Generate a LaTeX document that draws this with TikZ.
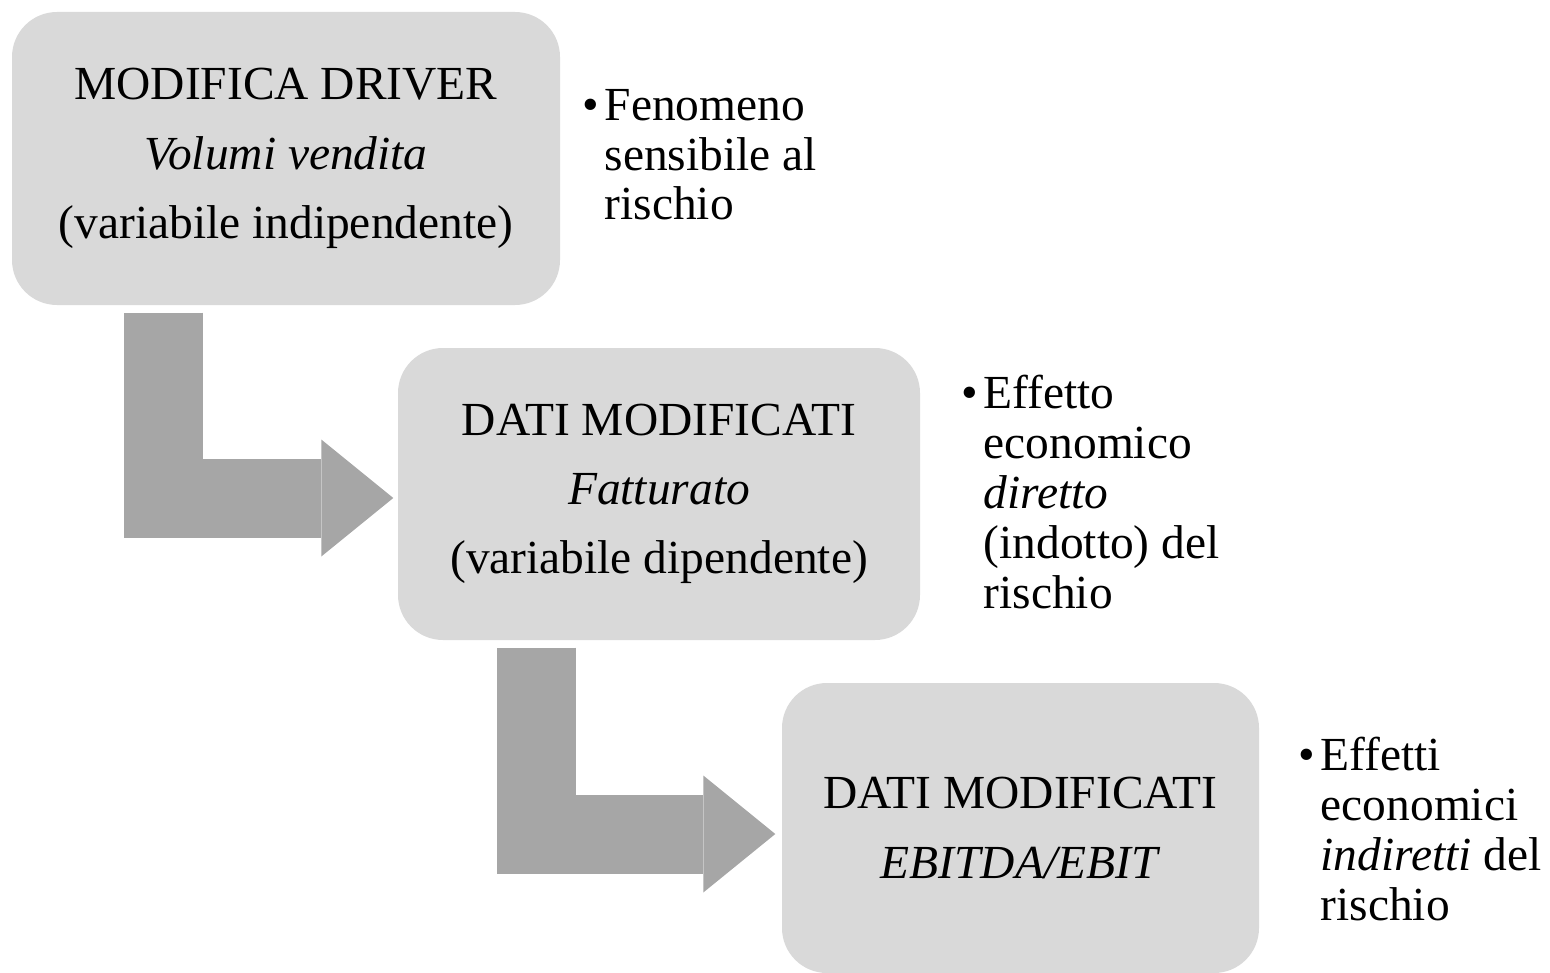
\documentclass[tikz,border=0pt]{standalone}
\usepackage{fontspec}
\setmainfont{Liberation Serif}
\usetikzlibrary{arrows.meta}
\definecolor{boxgray}{RGB}{217,217,217}
\definecolor{arrgray}{RGB}{166,166,166}
\tikzset{
  stepbox/.style={fill=boxgray, rounded corners=0.45cm, align=center, inner sep=0pt,
    font=\fontsize{13.5}{19.7}\selectfont},
  note/.style={anchor=base west, align=left, inner sep=0pt,
    font=\fontsize{13.5}{14.2}\selectfont},
  bent/.style={draw=arrgray, line width=0.79cm, line join=miter,
    -{Triangle[width=1.17cm, length=0.72cm, line width=0pt, fill=arrgray]}}
}
\newcommand{\blt}{\llap{\textbullet\hspace{0.06cm}}}
\begin{document}
\begin{tikzpicture}
\useasboundingbox (0,0) rectangle (15.5,-9.73);
% boxes
\node[stepbox, minimum width=5.48cm, minimum height=2.93cm] (drv) at (2.86,-1.585)
  {MODIFICA DRIVER\\ \textit{Volumi vendita}\\ (variabile indipendente)};
\node[stepbox, minimum width=5.22cm, minimum height=2.92cm] (dat1) at (6.59,-4.94)
  {DATI MODIFICATI\\ \textit{Fatturato}\\ (variabile dipendente)};
\node[stepbox, minimum width=4.77cm, minimum height=2.90cm] (dat2) at (10.205,-8.28)
  {DATI MODIFICATI\\ \textit{EBITDA/EBIT}};
% bent arrows
\draw[bent] ([xshift=1.525cm, yshift=-0.07cm]drv.south west) |- ([xshift=-0.04cm, yshift=-0.04cm]dat1.west);
\draw[bent] ([xshift=1.395cm, yshift=-0.07cm]dat1.south west) |- ([xshift=-0.06cm, yshift=-0.06cm]dat2.west);
% notes (base = last line)
\node[note] (n1) at (6.04,-2.20) {\blt Fenomeno\\ sensibile al\\ rischio};
\node[note] (n2) at (9.83,-6.08) {\blt Effetto\\ economico\\ \textit{diretto}\\ (indotto) del\\ rischio};
\node[note] (n3) at (13.20,-9.20) {\blt Effetti\\ economici\\ \textit{indiretti} del\\ rischio};
\end{tikzpicture}
\end{document}
